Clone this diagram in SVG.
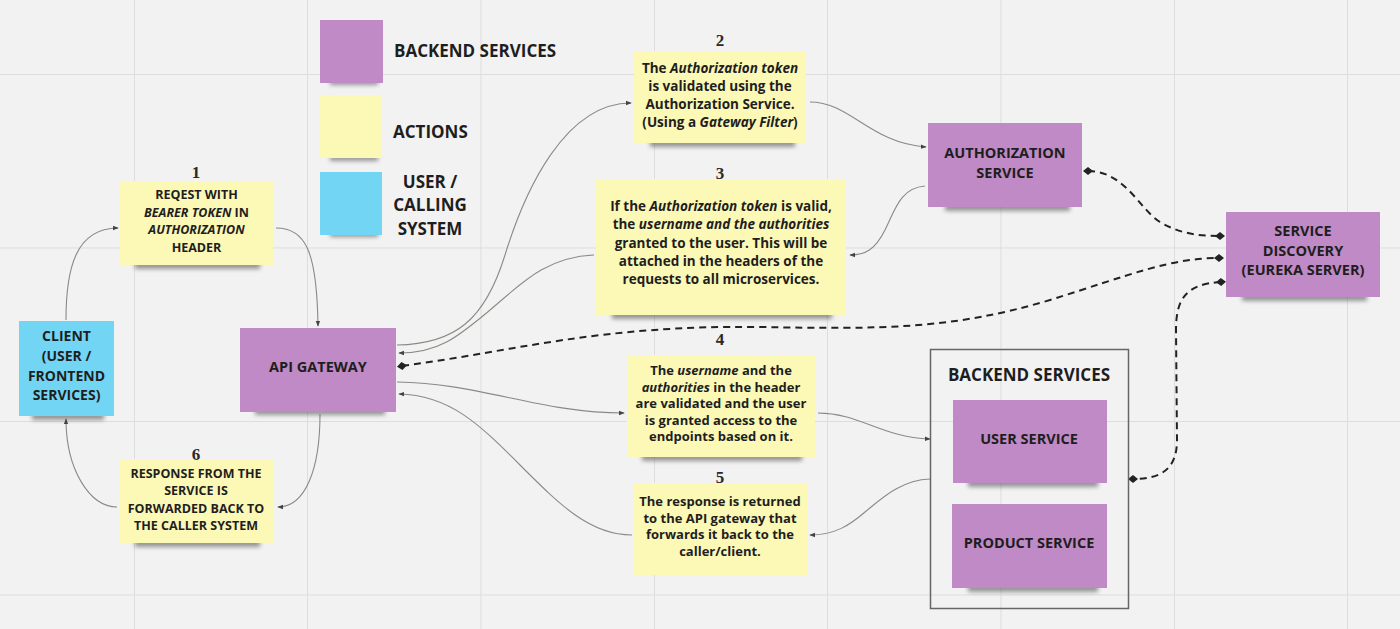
<svg xmlns="http://www.w3.org/2000/svg" width="1400" height="629" viewBox="0 0 1400 629">
<style>
.t{font-family:"Open Sans","Liberation Sans",sans-serif;font-weight:700;fill:#1e1e1e;text-anchor:middle}
.it{font-style:italic}
.num{font-family:"Liberation Serif","DejaVu Serif",serif;font-weight:700;font-size:17px;fill:#2a2a2a;text-anchor:middle}
.grid{stroke:#dddddd;stroke-width:1}
.pur{fill:#bf8ac5}
.yel{fill:#fcf8b6}
.cya{fill:#72d5f3}
.sh{fill:#4a4a4a;opacity:.55;filter:url(#blur)}
.con{fill:none;stroke:#8a8a85;stroke-width:1.1;marker-end:url(#arr)}
.dash{fill:none;stroke:#222;stroke-width:2;stroke-dasharray:7 5;marker-start:url(#dia);marker-end:url(#dia)}
</style>
<defs>
<filter id="blur" x="-20%" y="-100%" width="140%" height="300%"><feGaussianBlur stdDeviation="2.2"/></filter>
<marker id="arr" viewBox="0 0 8 8" refX="7" refY="4" markerWidth="6" markerHeight="6" orient="auto" markerUnits="userSpaceOnUse"><path d="M0,1 L8,4 L0,7 z" fill="#444"/></marker>
<marker id="dia" viewBox="0 0 10 10" refX="5" refY="5" markerWidth="10" markerHeight="10" orient="auto" markerUnits="userSpaceOnUse"><path d="M0,5 L5,1 L10,5 L5,9 z" fill="#222"/></marker>
</defs>
<rect width="1400" height="629" fill="#f2f2f2"/>
<g id="grid">
<line class="grid" x1="134.5" y1="0" x2="134.5" y2="629"/>
<line class="grid" x1="307.5" y1="0" x2="307.5" y2="629"/>
<line class="grid" x1="481" y1="0" x2="481" y2="629"/>
<line class="grid" x1="654.5" y1="0" x2="654.5" y2="629"/>
<line class="grid" x1="827.5" y1="0" x2="827.5" y2="629"/>
<line class="grid" x1="1001" y1="0" x2="1001" y2="629"/>
<line class="grid" x1="1174.5" y1="0" x2="1174.5" y2="629"/>
<line class="grid" x1="1347.5" y1="0" x2="1347.5" y2="629"/>
<line class="grid" x1="0" y1="74.5" x2="1400" y2="74.5"/>
<line class="grid" x1="0" y1="248" x2="1400" y2="248"/>
<line class="grid" x1="0" y1="421.5" x2="1400" y2="421.5"/>
<line class="grid" x1="0" y1="595" x2="1400" y2="595"/>
</g>
<g id="legend">
<rect class="sh" x="330" y="79" width="48" height="6"/>
<rect class="pur" x="320" y="20" width="63" height="63"/>
<rect class="sh" x="330" y="155" width="48" height="6"/>
<rect class="yel" x="320" y="96" width="62" height="62"/>
<rect class="sh" x="330" y="231" width="48" height="6"/>
<rect class="cya" x="320" y="172" width="62" height="63"/>
<text class="t" x="394" y="57" style="text-anchor:start;font-size:17px">BACKEND SERVICES</text>
<text class="t" x="393" y="138" style="text-anchor:start;font-size:17px">ACTIONS</text>
<text class="t" x="430" y="188" style="font-size:17px">USER /</text>
<text class="t" x="430" y="211" style="font-size:17px">CALLING</text>
<text class="t" x="430" y="235" style="font-size:17px">SYSTEM</text>
</g>
<g id="connectors">
<path class="con" d="M66,320 C66,270 75,228 118,228"/>
<path class="con" d="M276,228 C305,228 317,250 318,326"/>
<path class="con" d="M320,414 C320,470 305,507 278,507"/>
<path class="con" d="M117,507 C90,507 66,470 66,419"/>
<path class="con" d="M397,345 C455,344 485,320 505,255 C525,190 565,103 631,103"/>
<path class="con" d="M594,255 C545,257 520,285 490,310 C460,335 440,353 399,353"/>
<path class="con" d="M397,382 C480,383 540,413 624,413"/>
<path class="con" d="M632,535 C590,535 560,505 520,465 C480,425 450,395 399,394"/>
<path class="con" d="M810,102 C850,102 870,143 926,147"/>
<path class="con" d="M925,186 C900,188 895,210 885,230 C875,250 865,255 850,255"/>
<path class="con" d="M818,413 C860,413 880,437 930,439"/>
<path class="con" d="M930,479 C900,480 880,500 865,512 C850,525 835,535 810,535"/>
<path class="dash" d="M1088,171 C1125,171 1140,210 1160,222 C1180,234 1200,236 1220,236"/>
<path class="dash" d="M402,366 C520,350 600,325 760,327 C880,329 950,330 1050,300 C1130,275 1170,258 1219,258"/>
<path class="dash" d="M1221,282 C1185,284 1176,300 1176,330 L1177,440 C1177,470 1160,479 1133,479"/>
</g>
<g id="note1">
<rect class="sh" x="135" y="261" width="125" height="8"/>
<rect class="yel" x="120" y="181" width="153" height="84"/>
<text class="num" x="196" y="178">1</text>
<text class="t" style="font-size:12.5px"><tspan x="196.5" y="198.5">REQEST WITH</tspan><tspan x="196.5" y="216.5"><tspan class="it">BEARER TOKEN</tspan> IN</tspan><tspan x="196.5" y="233.5" class="it">AUTHORIZATION</tspan><tspan x="196.5" y="251.5">HEADER</tspan></text>
</g>
<g id="client">
<rect class="sh" x="32" y="412" width="72" height="8"/>
<rect class="cya" x="19" y="321" width="95" height="95"/>
<text class="t" style="font-size:14px"><tspan x="66.5" y="341">CLIENT</tspan><tspan x="66.5" y="361">(USER /</tspan><tspan x="66.5" y="381">FRONTEND</tspan><tspan x="66.5" y="400">SERVICES)</tspan></text>
</g>
<g id="api-gateway">
<rect class="sh" x="255" y="407" width="130" height="8"/>
<rect class="pur" x="240" y="328" width="156" height="84"/>
<text class="t" x="318" y="372" style="font-size:14.5px">API GATEWAY</text>
</g>
<g id="note6">
<rect class="sh" x="135" y="539" width="125" height="8"/>
<rect class="yel" x="119" y="459" width="154" height="84"/>
<text class="num" x="196" y="460">6</text>
<text class="t" style="font-size:12.5px"><tspan x="196" y="477.5">RESPONSE FROM THE</tspan><tspan x="196" y="494.5">SERVICE IS</tspan><tspan x="196" y="512.5">FORWARDED BACK TO</tspan><tspan x="196" y="529.5">THE CALLER SYSTEM</tspan></text>
</g>
<g id="note2">
<rect class="sh" x="650" y="139" width="145" height="8"/>
<rect class="yel" x="634" y="51" width="172" height="92"/>
<text class="num" x="720" y="46">2</text>
<text class="t" style="font-size:13.5px"><tspan x="720" y="72.5">The <tspan class="it">Authorization token</tspan></tspan><tspan x="720" y="90.5">is validated using the</tspan><tspan x="720" y="108.5">Authorization Service.</tspan><tspan x="720" y="127">(Using a <tspan class="it">Gateway Filter</tspan>)</tspan></text>
</g>
<g id="note3">
<rect class="sh" x="612" y="311" width="220" height="8"/>
<rect class="yel" x="596" y="179" width="250" height="136"/>
<text class="num" x="720" y="179">3</text>
<text class="t" style="font-size:13.5px"><tspan x="721" y="211">If the <tspan class="it">Authorization token</tspan> is valid,</tspan><tspan x="721" y="229">the <tspan class="it">username and the authorities</tspan></tspan><tspan x="721" y="247.5">granted to the user. This will be</tspan><tspan x="721" y="265.5">attached in the headers of the</tspan><tspan x="721" y="284">requests to all microservices.</tspan></text>
</g>
<g id="note4">
<rect class="sh" x="642" y="453" width="160" height="8"/>
<rect class="yel" x="627" y="355" width="188" height="102"/>
<text class="num" x="720" y="345">4</text>
<text class="t" style="font-size:13px"><tspan x="721" y="375">The <tspan class="it">username</tspan> and the</tspan><tspan x="721" y="391.5"><tspan class="it">authorities</tspan> in the header</tspan><tspan x="721" y="408">are validated and the user</tspan><tspan x="721" y="424.5">is granted access to the</tspan><tspan x="721" y="441">endpoints based on it.</tspan></text>
</g>
<g id="note5">
<rect class="yel" x="634" y="483" width="173" height="92"/>
<text class="num" x="720" y="483">5</text>
<text class="t" style="font-size:13px"><tspan x="720" y="506">The response is returned</tspan><tspan x="720" y="523">to the API gateway that</tspan><tspan x="720" y="539">forwards it back to the</tspan><tspan x="720" y="555.5">caller/client.</tspan></text>
</g>
<g id="authorization-service">
<rect class="sh" x="945" y="203" width="125" height="8"/>
<rect class="pur" x="928" y="123" width="154" height="84"/>
<text class="t" style="font-size:14.5px"><tspan x="1005" y="158">AUTHORIZATION</tspan><tspan x="1005" y="178">SERVICE</tspan></text>
</g>
<g id="service-discovery">
<rect class="sh" x="1242" y="293" width="125" height="8"/>
<rect class="pur" x="1226" y="212" width="154" height="85"/>
<text class="t" style="font-size:14.5px"><tspan x="1303" y="236">SERVICE</tspan><tspan x="1303" y="255.5">DISCOVERY</tspan><tspan x="1303" y="275">(EUREKA SERVER)</tspan></text>
</g>
<g id="backend-services">
<rect x="930.5" y="349.5" width="198" height="259" fill="none" stroke="#666" stroke-width="1.5"/>
<text class="t" x="1029" y="381" style="font-size:17px">BACKEND SERVICES</text>
</g>
<g id="user-service">
<rect class="sh" x="968" y="479" width="130" height="8"/>
<rect class="pur" x="953" y="400" width="154" height="83"/>
<text class="t" x="1029" y="444" style="font-size:14.5px">USER SERVICE</text>
</g>
<g id="product-service">
<rect class="sh" x="968" y="584" width="130" height="8"/>
<rect class="pur" x="952" y="504" width="155" height="84"/>
<text class="t" x="1029" y="548" style="font-size:14.5px">PRODUCT SERVICE</text>
</g>
</svg>
